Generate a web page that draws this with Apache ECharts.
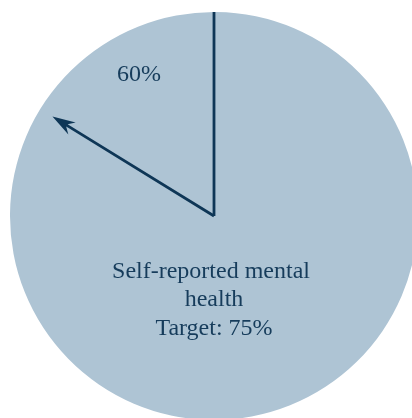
<!DOCTYPE html>
<html>
<head>
<meta charset="utf-8">
<style>
  html, body { margin: 0; padding: 0; background: #ffffff; }
  #chart { width: 412px; height: 418px; }
</style>
<script src="https://cdn.jsdelivr.net/npm/echarts@6/dist/echarts.min.js"></script>
</head>
<body>
<div id="chart"></div>
<script>
// Indicator data
const metricName = 'Self-reported mental health';
const actualValues = [60];   // reported share, %
const targetValues = [75];   // goal, %

// Dial scale: the target sits at twelve o'clock, values run clockwise
const scaleMin = 0;
const scaleMax = 92.5;

const navy = '#0e3656';
const textNavy = '#163c5b';
const diskColor = '#aec4d4';
const serif = '"Liberation Serif", "Times New Roman", serif';

const dialCenter = [214, 216];
const dialRadius = 204;
const startAngle = 90 + (targetValues[0] - scaleMin) / (scaleMax - scaleMin) * 360;
const endAngle = startAngle - 360;

const hidden = {
  axisTick: { show: false },
  splitLine: { show: false },
  axisLabel: { show: false },
  progress: { show: false },
  anchor: { show: false }
};

const chart = echarts.init(document.getElementById('chart'), null, { renderer: 'canvas' });

chart.setOption({
  backgroundColor: '#ffffff',
  animation: false,
  series: [
    {
      // filled disk + actual-value arrow
      type: 'gauge',
      center: dialCenter,
      radius: dialRadius,
      min: scaleMin,
      max: scaleMax,
      startAngle: startAngle,
      endAngle: endAngle,
      clockwise: true,
      axisLine: {
        show: true,
        lineStyle: { width: dialRadius, color: [[1, diskColor]] }
      },
      ...hidden,
      pointer: {
        show: true,
        icon: 'path://M7,0 L14,23 L8.4,17 L8.4,190 L5.6,190 L5.6,17 L0,23 Z',
        width: 14,
        length: '93%',
        itemStyle: { color: navy }
      },
      title: {
        show: true,
        offsetCenter: [0, 84],
        color: textNavy,
        fontFamily: serif,
        fontSize: 24,
        lineHeight: 28.5,
        width: 215,
        overflow: 'break'
      },
      detail: {
        show: true,
        offsetCenter: [-75, -141],
        formatter: '{value}%',
        color: textNavy,
        fontFamily: serif,
        fontSize: 24,
        fontWeight: 'normal'
      },
      data: actualValues.map(v => ({
        value: v,
        name: metricName + '\nTarget: ' + targetValues[0] + '%'
      }))
    },
    {
      // target marker line
      type: 'gauge',
      center: dialCenter,
      radius: dialRadius,
      min: scaleMin,
      max: scaleMax,
      startAngle: startAngle,
      endAngle: endAngle,
      clockwise: true,
      axisLine: { show: false },
      ...hidden,
      pointer: {
        show: true,
        icon: 'rect',
        width: 2.8,
        length: '100%',
        itemStyle: { color: navy }
      },
      title: { show: false },
      detail: { show: false },
      data: targetValues.map(v => ({ value: v }))
    }
  ]
});
</script>
</body>
</html>
